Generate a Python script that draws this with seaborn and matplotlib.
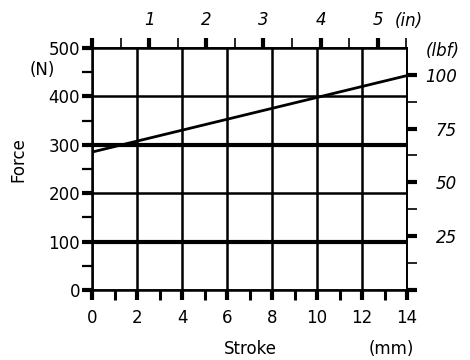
import matplotlib
matplotlib.use("Agg")
import matplotlib.pyplot as plt
import seaborn as sns
import pandas as pd

# Force vs. stroke characteristic
stroke_mm = [0, 14]
force_n = [285, 443]

# Heavy reference levels (N)
level_n = [100, 300]

# Axis ticks
stroke_ticks = [0, 2, 4, 6, 8, 10, 12, 14]
stroke_minor = [1, 3, 5, 7, 9, 11, 13]
force_ticks = [0, 100, 200, 300, 400, 500]
force_minor = [50, 150, 250, 350, 450]
inch_ticks = [0, 1, 2, 3, 4, 5]
inch_labels = ["", "1", "2", "3", "4", "5"]
inch_minor = [0.5, 1.5, 2.5, 3.5, 4.5, 5.5]
lbf_ticks = [0, 25, 50, 75, 100]
lbf_labels = ["", "25", "50", "75", "100"]
lbf_minor = [12.5, 37.5, 62.5, 87.5]

MM_PER_UNIT = 2.54      # top scale unit (0.1 in) in mm
N_PER_LBF = 4.44822

sns.set_theme(style="white")
plt.rcParams["font.family"] = ["DejaVu Sans"]
plt.rcParams["text.color"] = "black"
plt.rcParams["axes.labelcolor"] = "black"
plt.rcParams["xtick.color"] = "black"
plt.rcParams["ytick.color"] = "black"

df = pd.DataFrame({"Stroke": stroke_mm, "Force": force_n})

W, H = 470, 360
fig = plt.figure(figsize=(W / 100, H / 100), dpi=100)
ax = fig.add_axes([92 / W, 70 / H, 315 / W, 242 / H])

ax.set_xlim(0, 14)
ax.set_ylim(0, 500)

ax.grid(True, color="black", linewidth=1.8, zorder=1)
for lv in level_n:
    ax.axhline(lv, color="black", linewidth=3.0, zorder=2)

sns.lineplot(data=df, x="Stroke", y="Force", color="black", linewidth=2.0,
             ax=ax, zorder=3)

for side in ["left", "bottom"]:
    ax.spines[side].set_linewidth(1.8)
    ax.spines[side].set_color("black")
for side in ["top", "right"]:
    ax.spines[side].set_linewidth(1.4)
    ax.spines[side].set_color("black")

ax.set_xticks(stroke_ticks)
ax.set_xticks(stroke_minor, minor=True)
ax.set_yticks(force_ticks)
ax.set_yticks(force_minor, minor=True)
ax.grid(False, which="minor")

ax.tick_params(axis="x", which="major", direction="out", length=7, width=3,
               labelsize=12, pad=7, bottom=True, top=False)
ax.tick_params(axis="x", which="minor", direction="out", length=7, width=2.2,
               bottom=True, top=False)
ax.tick_params(axis="y", which="major", direction="out", length=7, width=3,
               labelsize=12, pad=1.5, left=True, right=False)
ax.tick_params(axis="y", which="minor", direction="out", length=7, width=1.6,
               left=True, right=False)

ax.set_xlabel("Stroke", fontsize=12, va="center")
ax.xaxis.set_label_coords(0.502, -0.244)
ax.set_ylabel("Force", fontsize=12, va="center")
ax.yaxis.set_label_coords(-0.235, 0.537)

# Secondary scales
top = ax.secondary_xaxis("top", functions=(lambda x: x / MM_PER_UNIT,
                                           lambda u: u * MM_PER_UNIT))
top.set_xticks(inch_ticks, inch_labels, fontstyle="italic", fontsize=12)
top.set_xticks(inch_minor, minor=True)
top.tick_params(axis="x", which="major", direction="out", length=7, width=3, pad=7)
top.tick_params(axis="x", which="minor", direction="out", length=7, width=1.2)
top.spines["top"].set_visible(False)

right = ax.secondary_yaxis("right", functions=(lambda n: n / N_PER_LBF,
                                               lambda f: f * N_PER_LBF))
right.set_yticks(lbf_ticks, lbf_labels, fontstyle="italic", fontsize=12)
right.set_yticks(lbf_minor, minor=True)
right.tick_params(axis="y", which="major", direction="out", length=7.5, width=3, pad=28.5)
right.tick_params(axis="y", which="minor", direction="out", length=7, width=1.2)
for lbl in right.get_yticklabels():
    lbl.set_horizontalalignment("right")
right.spines["right"].set_visible(False)

# Unit captions
fig.text(42 / W, 1 - 70 / H, "(N)", fontsize=12, ha="center", va="center")
fig.text(443 / W, 1 - 51 / H, "(lbf)", fontsize=12, fontstyle="italic",
         ha="center", va="center")
fig.text(409 / W, 1 - 21 / H, "(in)", fontsize=12, fontstyle="italic",
         ha="center", va="center")
fig.text(391 / W, 1 - 349 / H, "(mm)", fontsize=12, ha="center", va="center")

fig.savefig("out.png", dpi=100, facecolor="white")
